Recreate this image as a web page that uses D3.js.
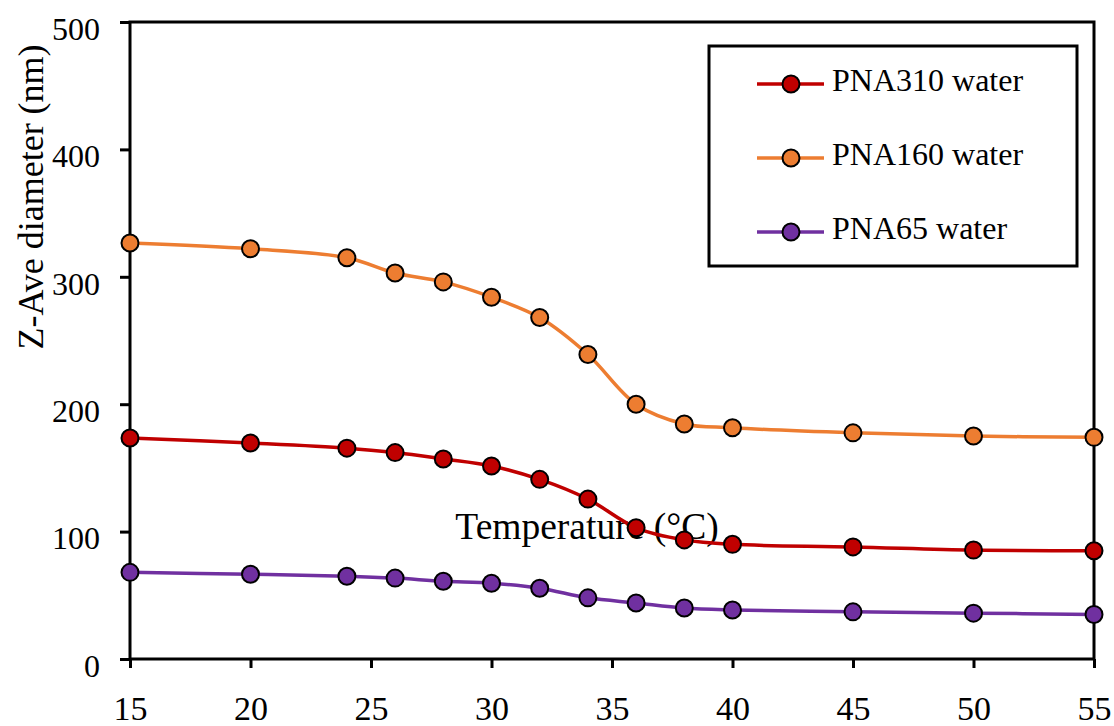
<!DOCTYPE html>
<html>
<head>
<meta charset="utf-8">
<script src="https://cdn.jsdelivr.net/npm/d3@7"></script>
<style>
  body { margin: 0; background: #fff; }
  svg text { font-family: "Liberation Serif", "Times New Roman", serif; fill: #000; }
</style>
</head>
<body>
<div id="chart"></div>
<script>
// temperature (°C)
const temps = [15, 20, 24, 26, 28, 30, 32, 34, 36, 38, 40, 45, 50, 55];

// Z-Ave diameter (nm)
const pna310 = [173.5, 169.5, 165.5, 162, 157, 151.5, 141, 125.5, 103, 93.5, 90, 88, 85.5, 85];
const pna160 = [326.5, 322, 315, 303, 296, 284, 268, 239, 200, 184.5, 181.5, 177.5, 175, 174];
const pna65 = [68, 66.5, 65, 63.5, 61, 59.5, 55.5, 48, 44, 40, 38.5, 37, 36, 35];

const seriesNames = ['PNA310 water', 'PNA160 water', 'PNA65 water'];
const seriesColors = ['#C00000', '#ED7D31', '#7030A0'];
const xTicks = [15, 20, 25, 30, 35, 40, 45, 50, 55];
const yTicks = [0, 100, 200, 300, 400, 500];

const width = 1114;
const height = 726;
const margin = { top: 22, right: 20, bottom: 67, left: 130 };
const serif = '"Liberation Serif", "Times New Roman", serif';

const svg = d3.select('#chart').append('svg')
  .attr('width', width)
  .attr('height', height)
  .attr('font-family', serif);

const xScale = d3.scaleLinear()
  .domain([15, 55])
  .range([margin.left, width - margin.right]);

const yScale = d3.scaleLinear()
  .domain([0, 500])
  .range([height - margin.bottom, margin.top]);

// y axis
const yAxis = svg.append('g')
  .attr('transform', `translate(${margin.left}, 0)`)
  .call(d3.axisLeft(yScale).tickValues(yTicks).tickSize(10).tickPadding(20).tickFormat(d3.format('d')));
yAxis.attr('font-family', serif);
yAxis.select('.domain').remove();
yAxis.selectAll('line').attr('stroke', '#000').attr('stroke-width', 3);
yAxis.selectAll('text')
  .attr('font-size', 32)
  .attr('dy', '0.54em');

// x axis
const xAxis = svg.append('g')
  .attr('transform', `translate(0, ${height - margin.bottom})`)
  .call(d3.axisBottom(xScale).tickValues(xTicks).tickSize(9).tickPadding(28));
xAxis.attr('font-family', serif);
xAxis.select('.domain').remove();
xAxis.selectAll('line').attr('stroke', '#000').attr('stroke-width', 3);
xAxis.selectAll('text')
  .attr('font-size', 34);

// plot frame
svg.append('rect')
  .attr('x', xScale(15))
  .attr('y', yScale(500))
  .attr('width', xScale(55) - xScale(15))
  .attr('height', yScale(0) - yScale(500))
  .attr('fill', 'none')
  .attr('stroke', '#000')
  .attr('stroke-width', 3);

// axis titles (x title sits inside the plot, as in the original)
svg.append('text')
  .attr('transform', `translate(43, 197) rotate(-90)`)
  .attr('text-anchor', 'middle')
  .attr('font-size', 36)
  .text('Z-Ave diameter (nm)');

svg.append('text')
  .attr('x', 587)
  .attr('y', 539)
  .attr('text-anchor', 'middle')
  .attr('font-size', 37.5)
  .text('Temperature (°C)');

// series
const allSeries = [pna310, pna160, pna65];
const line = d3.line()
  .x((d, i) => xScale(temps[i]))
  .y(d => yScale(d))
  .curve(d3.curveCatmullRom.alpha(0.5));

allSeries.forEach((values, s) => {
  svg.append('path')
    .datum(values)
    .attr('d', line)
    .attr('fill', 'none')
    .attr('stroke', seriesColors[s])
    .attr('stroke-width', 3.5);

  svg.append('g')
    .selectAll('circle')
    .data(values)
    .enter()
    .append('circle')
    .attr('cx', (d, i) => xScale(temps[i]))
    .attr('cy', d => yScale(d))
    .attr('r', 8.5)
    .attr('fill', seriesColors[s])
    .attr('stroke', '#000')
    .attr('stroke-width', 2);
});

// legend
const legend = svg.append('g');
legend.append('rect')
  .attr('x', 709)
  .attr('y', 46)
  .attr('width', 368)
  .attr('height', 220)
  .attr('fill', '#fff')
  .attr('stroke', '#000')
  .attr('stroke-width', 3);

const legendY = [84, 158, 232];
seriesNames.forEach((name, s) => {
  legend.append('line')
    .attr('x1', 757).attr('x2', 824)
    .attr('y1', legendY[s]).attr('y2', legendY[s])
    .attr('stroke', seriesColors[s])
    .attr('stroke-width', 3.5);
  legend.append('circle')
    .attr('cx', 791)
    .attr('cy', legendY[s])
    .attr('r', 8.5)
    .attr('fill', seriesColors[s])
    .attr('stroke', '#000')
    .attr('stroke-width', 2);
  legend.append('text')
    .attr('x', 832)
    .attr('y', legendY[s] + 7)
    .attr('font-size', 32)
    .text(name);
});
</script>
</body>
</html>
